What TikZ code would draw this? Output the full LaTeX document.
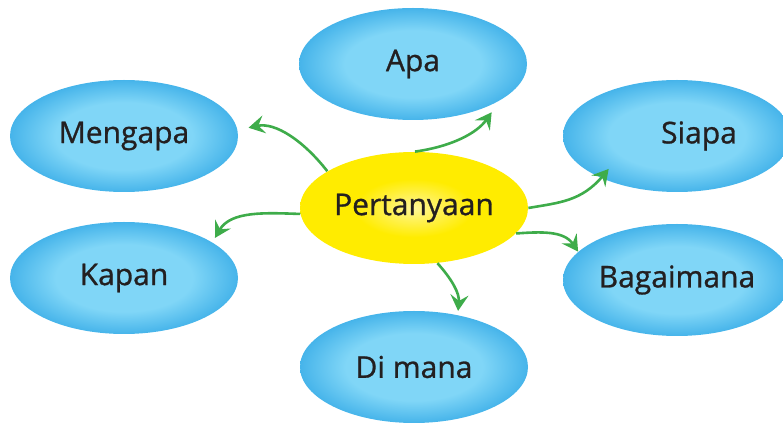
\documentclass[tikz,border=0pt]{standalone}
\usepackage{fontspec}
\setmainfont{Open Sans}
\newfontfamily\policebulle{Open Sans}[FakeBold=0.9]
\usepackage{xcolor}
\usepackage{tikz}
\usetikzlibrary{shapes.geometric, arrows.meta}
\definecolor{bleuclair}{RGB}{128, 214, 247}
\definecolor{bleubord}{RGB}{70, 180, 234}
\definecolor{jauneclair}{RGB}{255, 246, 150}
\definecolor{jaunevif}{RGB}{255, 236, 0}
\definecolor{vertfleche}{RGB}{62, 172, 74}
\definecolor{encre}{RGB}{35, 31, 32}
\pgfdeclareradialshading{bullebleue}{\pgfpoint{0bp}{0bp}}{color(0bp)=(bleuclair); color(15bp)=(bleuclair); color(25bp)=(bleubord); color(50bp)=(bleubord)}
\pgfdeclareradialshading{bullejaune}{\pgfpoint{0bp}{0bp}}{color(0bp)=(jauneclair); color(13bp)=(jaunevif); color(50bp)=(jaunevif)}

\begin{document}
\begin{tikzpicture}[x=0.5pt, y=0.5pt, font=\policebulle\fontsize{15}{18}\selectfont,
    bulle/.style={ellipse, minimum width=114pt, minimum height=56pt, inner sep=0pt, shading=bullebleue, text=encre},
    fleche/.style={draw=vertfleche, line width=1.3pt, -{Stealth[length=8pt, width=9pt, inset=3pt]}}]
    \useasboundingbox (0,0) rectangle (783,423);
    % bulle centrale
    \node[bulle, shading=bullejaune] (pertanyaan) at (414,215) {Pertanyaan};
    % bulles autour
    \node[bulle] (apa) at (413,359) {Apa};
    \node[bulle] (mengapa) at (124,287) {Mengapa};
    \node[bulle] (siapa) at (677,287) {\hspace{22pt}Siapa};
    \node[bulle] (kapan) at (124,145) {Kapan};
    \node[bulle] (bagaimana) at (677,143) {Bagaimana};
    \node[bulle] (dimana) at (414,56) {Di mana};
    % flèches
    \draw[fleche, shorten >=5.5pt] (pertanyaan.157) to[out=128, in=12] (mengapa.3);
    \draw[fleche, shorten >=7pt] (pertanyaan.89) to[out=8, in=235] (apa.-23);
    \draw[fleche, shorten >=-6pt] (pertanyaan.0) to[out=10, in=230] (siapa.209);
    \draw[fleche] (pertanyaan.-14) to[out=4, in=124] (bagaimana.164);
    \draw[fleche, shorten >=2pt] (pertanyaan.-67) to[out=-48, in=85] (dimana.50);
    \draw[fleche, shorten >=2.5pt] (pertanyaan.183) to[out=178, in=60] (kapan.22);
\end{tikzpicture}
\end{document}
